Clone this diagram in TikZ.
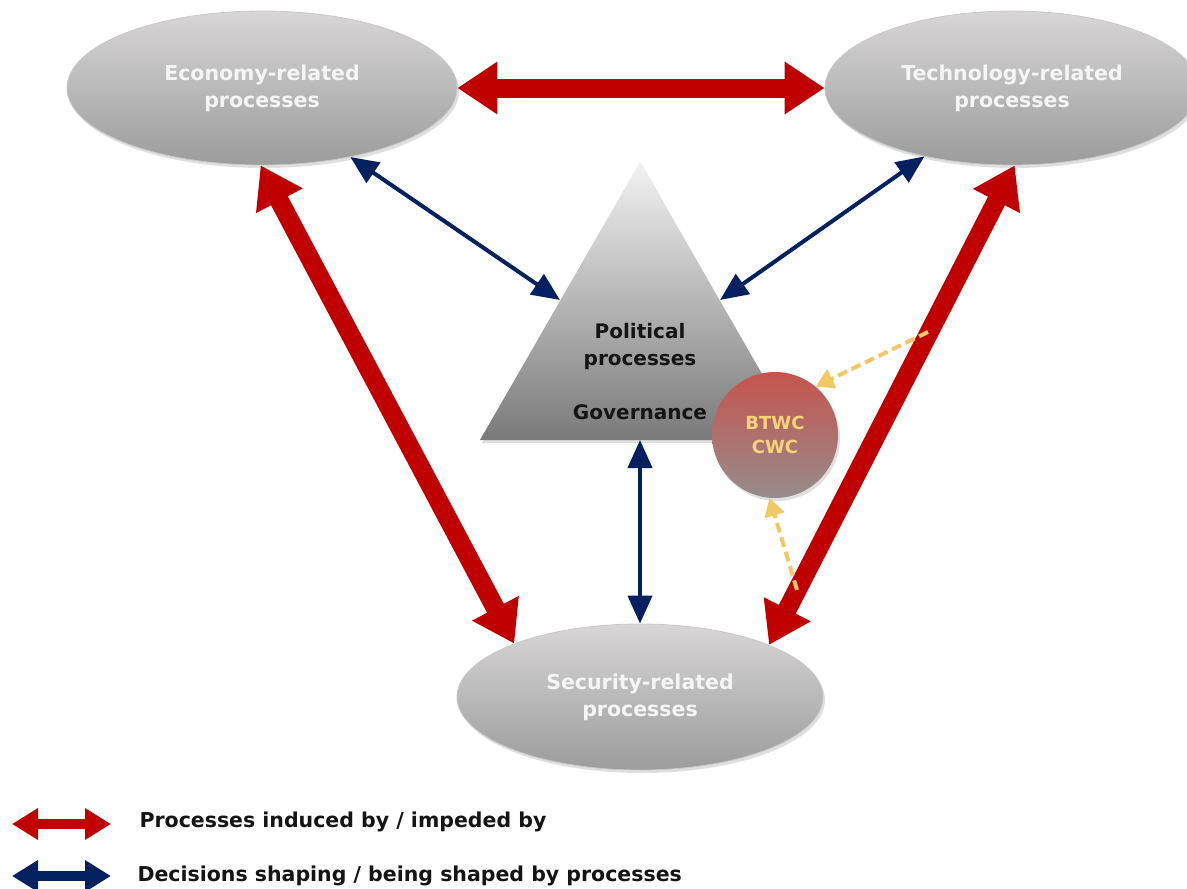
\documentclass[tikz,border=0pt]{standalone}
\usepackage{fontspec}
\setmainfont{DejaVu Sans}
\usetikzlibrary{shapes.geometric,arrows.meta,shadows}
\definecolor{redarr}{RGB}{192,0,0}
\definecolor{bluearr}{RGB}{0,32,96}
\definecolor{ylw}{RGB}{240,200,100}
\definecolor{btxt}{RGB}{248,212,120}
\definecolor{ellTop}{RGB}{216,214,214}
\definecolor{ellBot}{RGB}{156,156,156}
\definecolor{ellLine}{RGB}{200,200,200}
\definecolor{triTop}{RGB}{242,242,242}
\definecolor{triBot}{RGB}{122,122,122}
\definecolor{cirTop}{RGB}{198,84,78}
\definecolor{cirBot}{RGB}{150,140,140}
\definecolor{darktxt}{RGB}{20,20,20}
\begin{document}
\begin{tikzpicture}[x=1pt,y=-1pt,
  procnode/.style={ellipse, inner sep=0pt, top color=ellTop, bottom color=ellBot,
    draw=ellLine, line width=0.8pt,
    drop shadow={opacity=0.25,shadow xshift=2pt,shadow yshift=-3pt},
    text={rgb,255:red,245;green,245;blue,245}, align=center,
    font=\fontsize{20.5}{27}\selectfont\bfseries},
  poltext/.style={align=center, text=darktxt, font=\fontsize{20}{27}\selectfont\bfseries},
  redarrow/.style={draw=redarr, line width=19pt,
    {Triangle[width=50pt,length=40pt]}-{Triangle[width=50pt,length=40pt]}},
  bluearrow/.style={draw=bluearr, line width=4pt,
    {Triangle[width=24pt,length=28pt]}-{Triangle[width=24pt,length=28pt]}},
  ylwarrow/.style={draw=ylw, line width=4pt, dash pattern=on 10pt off 5pt,
    -{Triangle[width=20pt,length=18pt]}},
  legred/.style={draw=redarr, line width=10pt,
    {Triangle[width=30pt,length=26pt]}-{Triangle[width=30pt,length=26pt]}},
  legblue/.style={draw=bluearr, line width=10pt,
    {Triangle[width=30pt,length=26pt]}-{Triangle[width=30pt,length=26pt]}},
  legtext/.style={anchor=west, text=darktxt, font=\fontsize{20.5}{27}\selectfont\bfseries}
]
\useasboundingbox (0,0) rectangle (1187,889);
\clip (0,0) rectangle (1187,889);
\fill[white] (0,0) rectangle (1187,889);

% ellipses
\node[procnode, minimum width=390pt, minimum height=154pt] (eco) at (262,88) {Economy-related\\processes};
\node[procnode, minimum width=374pt, minimum height=154pt] (tech) at (1012,88) {Technology-related\\processes};
\node[procnode, minimum width=366pt, minimum height=146pt] (sec) at (640,697) {Security-related\\processes};

% triangle
\coordinate (apex) at (640,162);
\coordinate (bl) at (480,440);
\coordinate (br) at (800,440);
\path[top color=triTop, bottom color=triBot,
  drop shadow={opacity=0.25,shadow xshift=2pt,shadow yshift=-3pt}]
  (apex) -- (br) -- (bl) -- cycle;
\node[poltext] (pol) at (640,346) {Political\\processes};
\node[poltext] (gov) at (640,412) {Governance};
\coordinate (polL) at (560,300);
\coordinate (polR) at (720,300);
\coordinate (polB) at (640,440);

% circle
\node[circle, minimum size=126pt, inner sep=0pt, top color=cirTop, bottom color=cirBot,
  drop shadow={opacity=0.25,shadow xshift=2pt,shadow yshift=-3pt},
  align=center, text=btxt, font=\fontsize{18}{24}\selectfont\bfseries] (btwc) at (775,435) {BTWC\\CWC};

% red arrows
\draw[redarrow] (eco.east) -- (tech.west);
\draw[redarrow] (eco.-91) -- (sec.157);
\draw[redarrow] (tech.-88) -- (sec.22);

% blue arrows
\draw[bluearrow] (eco.-38) -- (polL);
\draw[bluearrow] (tech.-142) -- (polR);
\draw[bluearrow] (polB) -- (sec.north);

% yellow dashed arrows
\coordinate (ys1) at (928,332);
\coordinate (ys2) at (797,590);
\draw[ylwarrow] (ys1) -- (btwc.50);
\draw[ylwarrow] (ys2) -- (btwc.-95);

% legend
\coordinate (l1a) at (12,824);
\coordinate (l1b) at (111,824);
\coordinate (l2a) at (12,876);
\coordinate (l2b) at (111,876);
\draw[legred] (l1a) -- (l1b);
\draw[legblue] (l2a) -- (l2b);
\node[legtext] (lt1) at (136,822) {Processes induced by / impeded by};
\node[legtext] (lt2) at (134,876) {Decisions shaping / being shaped by processes};
\end{tikzpicture}
\end{document}
